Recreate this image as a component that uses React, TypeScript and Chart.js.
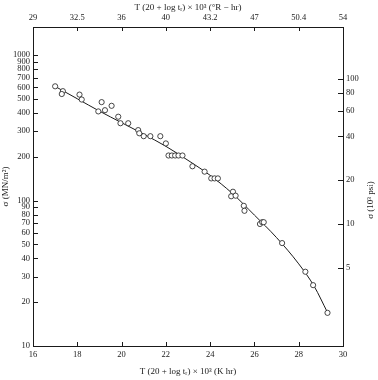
import React, { useEffect, useRef } from "react";
import { Chart, registerables } from "chart.js";

Chart.register(...registerables);

// ---- data ----
const xTicks = [16, 18, 20, 22, 24, 26, 28, 30];
const xTickLabels = ["16", "18", "20", "22", "24", "26", "28", "30"];
const topTickLabels = ["29", "32.5", "36", "40", "43.2", "47", "50.4", "54"];
const yTicks = [10, 20, 30, 40, 50, 60, 70, 80, 90, 100, 200, 300, 400, 500, 600, 700, 800, 900, 1000];
const rightTicks = [5, 10, 20, 40, 60, 80, 100];
const MPA_PER_KSI = 6.895;
const Y_MIN = 10;
const Y_MAX = 1560;

// measured points: Larson-Miller parameter (K hr, x10^3) and stress (MN/m^2)
const pointsT = [
  17.0, 17.35, 17.3, 18.1, 18.2, 18.95, 19.1, 19.25, 19.55, 19.85,
  19.95, 20.3, 20.75, 20.8, 21.0, 21.3, 21.75, 22.0, 22.12, 22.27,
  22.42, 22.57, 22.75, 23.2, 23.75, 24.05, 24.2, 24.35, 25.03, 24.95,
  25.15, 25.52, 25.55, 26.25, 26.35, 26.42, 27.25, 28.3, 28.65, 29.3,
];
const pointsSigma = [
  610, 565, 540, 535, 495, 410, 475, 418, 448, 377,
  340, 340, 305, 290, 277, 277, 277, 247, 204, 204,
  204, 204, 204, 172, 158, 142, 142, 142, 115, 107,
  108, 92, 85, 69, 71, 71, 51, 32.4, 26.2, 16.9,
];

// fitted master curve
const curveT = [16.9, 18, 19, 20, 21, 22, 23, 24, 25, 26, 27, 28, 28.7, 29.3];
const curveSigma = [621, 501, 412, 343, 286, 236, 189, 149, 112, 79.4, 55.6, 36.7, 25.7, 17];

const FONT_FAMILY = "'Liberation Serif', 'DejaVu Serif', 'Times New Roman', serif";
const INK = "#1a1a1a";

const inwardTicks = {
  id: "inwardTicks",
  afterDraw(chart: any) {
    const { ctx, chartArea: a, scales } = chart;
    ctx.save();
    ctx.strokeStyle = INK;
    ctx.lineWidth = 1;
    ctx.beginPath();
    const xs = scales.x;
    xs.ticks.forEach((t: any) => {
      const px = Math.round(xs.getPixelForValue(t.value)) + 0.5;
      ctx.moveTo(px, a.bottom);
      ctx.lineTo(px, a.bottom - 4);
    });
    const x2 = scales.x2;
    x2.ticks.forEach((t: any) => {
      const px = Math.round(x2.getPixelForValue(t.value)) + 0.5;
      ctx.moveTo(px, a.top);
      ctx.lineTo(px, a.top + 4);
    });
    const ys = scales.y;
    ys.ticks.forEach((t: any) => {
      const py = Math.round(ys.getPixelForValue(t.value)) + 0.5;
      ctx.moveTo(a.left, py);
      ctx.lineTo(a.left + 5, py);
    });
    const y2 = scales.y2;
    y2.ticks.forEach((t: any) => {
      const py = Math.round(y2.getPixelForValue(t.value)) + 0.5;
      ctx.moveTo(a.right, py);
      ctx.lineTo(a.right - 5, py);
    });
    ctx.stroke();

    // right-hand axis title, reading bottom to top
    ctx.fillStyle = INK;
    ctx.font = `9px ${FONT_FAMILY}`;
    ctx.textAlign = "center";
    ctx.textBaseline = "middle";
    ctx.translate(371, 200);
    ctx.rotate(-Math.PI / 2);
    ctx.fillText("σ (10³ psi)", 0, 0);
    ctx.restore();
  },
};

export default function App() {
  const canvasRef = useRef<HTMLCanvasElement | null>(null);

  useEffect(() => {
    if (!canvasRef.current) return;
    const tickFont = { family: FONT_FAMILY, size: 8.5 };
    const titleFont = { family: FONT_FAMILY, size: 9 };
    const border = { display: true, color: INK, width: 1 };
    const grid = { display: false, drawTicks: false, tickLength: 0 };

    const chart = new Chart(canvasRef.current, {
      type: "scatter",
      data: {
        datasets: [
          {
            type: "scatter",
            data: pointsT.map((t, i) => ({ x: t, y: pointsSigma[i] })),
            pointStyle: "circle",
            pointRadius: 2.6,
            pointBorderWidth: 0.8,
            pointBackgroundColor: "#ffffff",
            pointBorderColor: INK,
            order: 0,
            xAxisID: "x",
            yAxisID: "y",
          },
          {
            type: "line",
            data: curveT.map((t, i) => ({ x: t, y: curveSigma[i] })),
            borderColor: INK,
            borderWidth: 1,
            pointRadius: 0,
            fill: false,
            cubicInterpolationMode: "monotone",
            order: 1,
            xAxisID: "x",
            yAxisID: "y",
          },
        ],
      } as any,
      options: {
        responsive: false,
        animation: false,
        layout: { padding: 0 },
        plugins: { legend: { display: false }, tooltip: { enabled: false } },
        scales: {
          x: {
            type: "linear",
            position: "bottom",
            min: 16,
            max: 30,
            grid,
            border,
            afterBuildTicks: (s: any) => {
              s.ticks = xTicks.map((v) => ({ value: v }));
            },
            afterFit: (s: any) => {
              s.height = 34;
            },
            ticks: {
              autoSkip: false,
              maxRotation: 0,
              padding: 4,
              color: INK,
              font: tickFont,
              callback: (v: any) => xTickLabels[xTicks.indexOf(Number(v))] ?? "",
            },
            title: {
              display: true,
              text: "T (20 + log tᵣ) × 10³ (K hr)",
              color: INK,
              font: titleFont,
              padding: { top: 0, bottom: 3 },
            },
          },
          x2: {
            type: "linear",
            position: "top",
            min: 16,
            max: 30,
            grid,
            border,
            afterBuildTicks: (s: any) => {
              s.ticks = xTicks.map((v) => ({ value: v }));
            },
            afterFit: (s: any) => {
              s.height = 27;
            },
            ticks: {
              autoSkip: false,
              maxRotation: 0,
              padding: 4,
              color: INK,
              font: tickFont,
              callback: (v: any) => topTickLabels[xTicks.indexOf(Number(v))] ?? "",
            },
            title: {
              display: true,
              text: "T (20 + log tᵣ) × 10³ (°R − hr)",
              color: INK,
              font: titleFont,
              padding: { top: 2, bottom: 0 },
            },
          },
          y: {
            type: "logarithmic",
            position: "left",
            min: Y_MIN,
            max: Y_MAX,
            grid,
            border,
            afterBuildTicks: (s: any) => {
              s.ticks = yTicks.map((v) => ({ value: v }));
            },
            afterFit: (s: any) => {
              s.width = 33;
            },
            ticks: {
              autoSkip: false,
              padding: 3,
              color: INK,
              font: tickFont,
              callback: (v: any) => (yTicks.indexOf(Number(v)) >= 0 ? String(v) : ""),
            },
            title: {
              display: true,
              text: "σ (MN/m²)",
              color: INK,
              font: titleFont,
              padding: { top: 0, bottom: 0 },
            },
          },
          y2: {
            type: "logarithmic",
            position: "right",
            min: Y_MIN / MPA_PER_KSI,
            max: Y_MAX / MPA_PER_KSI,
            grid,
            border,
            afterBuildTicks: (s: any) => {
              s.ticks = rightTicks.map((v) => ({ value: v }));
            },
            afterFit: (s: any) => {
              s.width = 35;
            },
            ticks: {
              autoSkip: false,
              padding: 3,
              color: INK,
              font: tickFont,
              callback: (v: any) => (rightTicks.indexOf(Number(v)) >= 0 ? String(v) : ""),
            },
          },
        },
      } as any,
      plugins: [inwardTicks],
    });
    return () => chart.destroy();
  }, []);

  return (
    <div style={{ position: "fixed", left: 0, top: 0, width: 378, height: 380, background: "#fff" }}>
      <canvas ref={canvasRef} width={378} height={380} />
    </div>
  );
}
